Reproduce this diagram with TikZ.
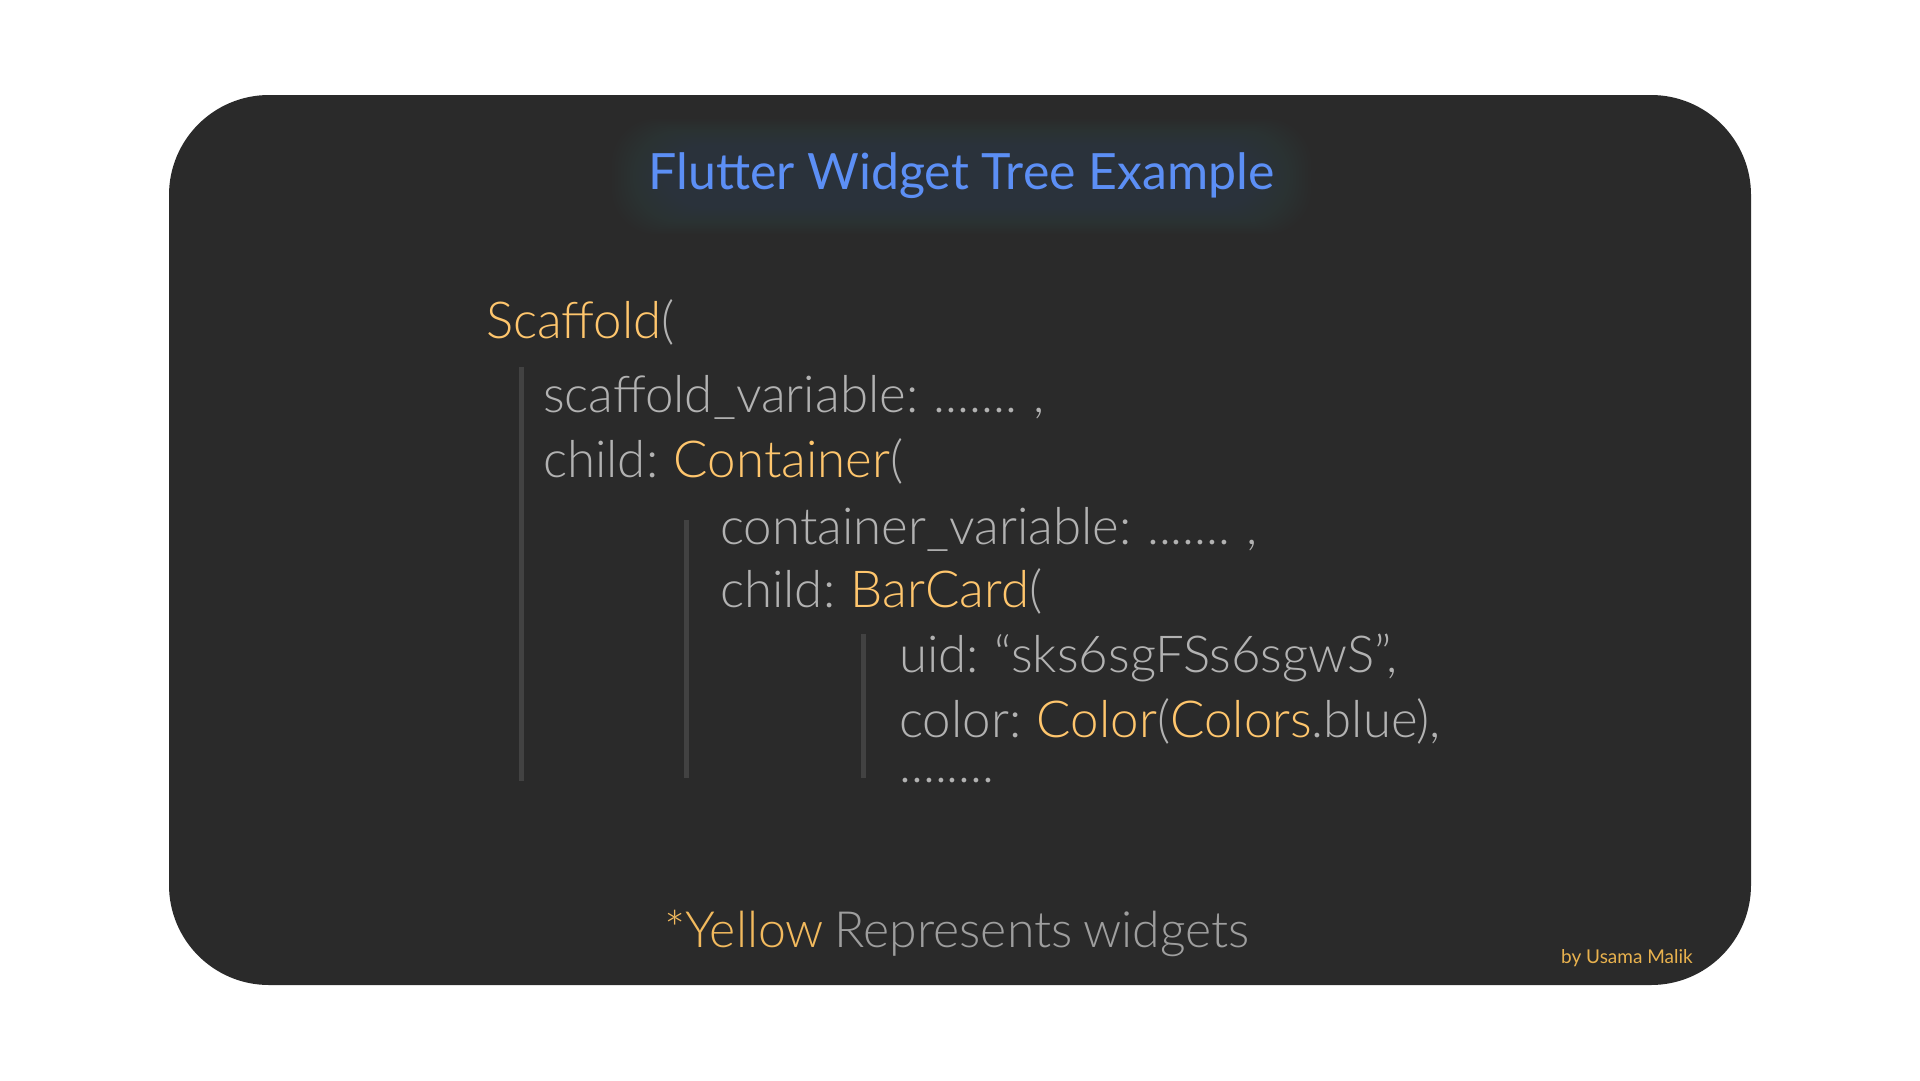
\documentclass[tikz,border=0pt]{standalone}
\usepackage{fontspec}
\setmainfont{Lato}
\newfontfamily\lightf{Lato Light}[WordSpace=0.6]
\newfontfamily\footf{Lato Light}[WordSpace=0.8]
\newfontfamily\regf{Lato}
\definecolor{bgdark}{HTML}{2A2A2A}
\definecolor{codegrey}{HTML}{B2B2B2}
\definecolor{widgetyel}{HTML}{FFC66D}
\definecolor{titleblue}{HTML}{5C8FF5}
\definecolor{barcol}{HTML}{424242}
\definecolor{glowcol}{HTML}{56648A}
\definecolor{footgrey}{HTML}{9E9E9E}
\definecolor{footyel}{HTML}{F2BA5E}
\definecolor{byyel}{HTML}{E9B24E}
\newcommand{\wy}[1]{\textcolor{widgetyel}{#1}}
\tikzset{
  codeline/.style={anchor=base west, inner sep=0pt, text=codegrey, text height=36pt, text depth=8pt, font=\lightf\fontsize{51}{60}\selectfont},
  bar/.style={draw=barcol, line width=5pt},
}
\begin{document}
\begin{tikzpicture}[x=1pt,y=-1pt]
\useasboundingbox (0,0) rectangle (1920,1080);
\fill[white] (0,0) rectangle (1920,1080);
\fill[bgdark, rounded corners=100pt] (169,95) rectangle (1751,985);
% title glow
\foreach \g in {0,3,...,48}{
  \fill[glowcol, opacity=0.018, rounded corners=45pt] (660-\g,145-\g*0.55) rectangle (1263+\g,208+\g*0.55);
}
\node[anchor=base, inner sep=0pt, text=titleblue, font=\regf\fontsize{50}{60}\selectfont] (title) at (961.5,189) {Flutter Widget Tree Example};
% code
\node[codeline] (scaffold) at (486,338) {\wy{Scaffold}(};
\node[codeline] (svar) at (543,412) {scaffold\_variable: ....... ,};
\node[codeline] (child1) at (543,477) {child: \wy{Container}(};
\node[codeline] (cvar) at (720,544) {container\_variable: ....... ,};
\node[codeline] (child2) at (720,607) {child: \wy{BarCard}(};
\node[codeline] (uid) at (899,672) {uid: “sks6sgFSs6sgwS”,};
\node[codeline] (color) at (899,737) {color: \wy{Color}(\wy{Colors}.blue),};
\node[codeline] (dots) at (899,782) {........};
% bars
\coordinate (b1t) at (521,367); \coordinate (b1b) at (521,781);
\coordinate (b2t) at (686,520); \coordinate (b2b) at (686,778);
\coordinate (b3t) at (863,634); \coordinate (b3b) at (863,778);
\draw[bar] (b1t) -- (b1b);
\draw[bar] (b2t) -- (b2b);
\draw[bar] (b3t) -- (b3b);
% footer
\node[anchor=base west, inner sep=0pt, font=\footf\fontsize{50}{58}\selectfont, text=footgrey] (foot) at (664,947) {\textcolor{footyel}{*Yellow} Represents widgets};
\node[anchor=base east, inner sep=0pt, font=\regf\fontsize{19}{22}\selectfont, text=byyel] (by) at (1693,963) {by Usama Malik};
\end{tikzpicture}
\end{document}
